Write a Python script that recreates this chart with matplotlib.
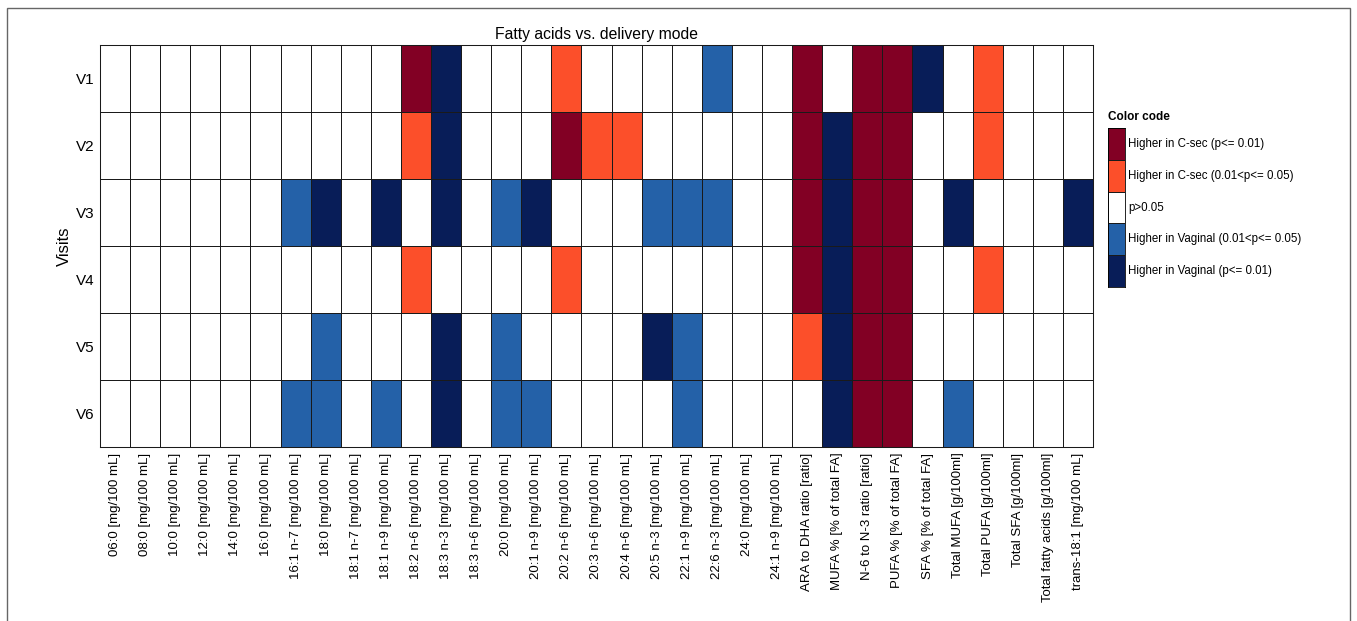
import matplotlib.pyplot as plt
import numpy as np
from matplotlib.colors import ListedColormap, BoundaryNorm
from matplotlib.patches import Rectangle

plt.rcParams['font.family'] = ['Liberation Sans', 'DejaVu Sans']

fatty_acids = [
    '06:0 [mg/100 mL]', '08:0 [mg/100 mL]', '10:0 [mg/100 mL]',
    '12:0 [mg/100 mL]', '14:0 [mg/100 mL]', '16:0 [mg/100 mL]',
    '16:1 n-7 [mg/100 mL]', '18:0 [mg/100 mL]', '18:1 n-7 [mg/100 mL]',
    '18:1 n-9 [mg/100 mL]', '18:2 n-6 [mg/100 mL]', '18:3 n-3 [mg/100 mL]',
    '18:3 n-6 [mg/100 mL]', '20:0 [mg/100 mL]', '20:1 n-9 [mg/100 mL]',
    '20:2 n-6 [mg/100 mL]', '20:3 n-6 [mg/100 mL]', '20:4 n-6 [mg/100 mL]',
    '20:5 n-3 [mg/100 mL]', '22:1 n-9 [mg/100 mL]', '22:6 n-3 [mg/100 mL]',
    '24:0 [mg/100 mL]', '24:1 n-9 [mg/100 mL]', 'ARA to DHA ratio [ratio]',
    'MUFA % [% of total FA]', 'N-6 to N-3 ratio [ratio]',
    'PUFA % [% of total FA]', 'SFA % [% of total FA]',
    'Total MUFA [g/100ml]', 'Total PUFA [g/100ml]', 'Total SFA [g/100ml]',
    'Total fatty acids [g/100ml]', 'trans-18:1 [mg/100 mL]',
]
visits = ['V1', 'V2', 'V3', 'V4', 'V5', 'V6']

# 2 = higher in C-sec (p<=0.01), 1 = C-sec (0.01<p<=0.05), 0 = n.s.,
# -1 = vaginal (0.01<p<=0.05), -2 = vaginal (p<=0.01)
v1 = [0, 0, 0, 0, 0, 0, 0, 0, 0, 0, 2, -2, 0, 0, 0, 1, 0, 0, 0, 0, -1,
      0, 0, 2, 0, 2, 2, -2, 0, 1, 0, 0, 0]
v2 = [0, 0, 0, 0, 0, 0, 0, 0, 0, 0, 1, -2, 0, 0, 0, 2, 1, 1, 0, 0, 0,
      0, 0, 2, -2, 2, 2, 0, 0, 1, 0, 0, 0]
v3 = [0, 0, 0, 0, 0, 0, -1, -2, 0, -2, 0, -2, 0, -1, -2, 0, 0, 0, -1, -1, -1,
      0, 0, 2, -2, 2, 2, 0, -2, 0, 0, 0, -2]
v4 = [0, 0, 0, 0, 0, 0, 0, 0, 0, 0, 1, 0, 0, 0, 0, 1, 0, 0, 0, 0, 0,
      0, 0, 2, -2, 2, 2, 0, 0, 1, 0, 0, 0]
v5 = [0, 0, 0, 0, 0, 0, 0, -1, 0, 0, 0, -2, 0, -1, 0, 0, 0, 0, -2, -1, 0,
      0, 0, 1, -2, 2, 2, 0, 0, 0, 0, 0, 0]
v6 = [0, 0, 0, 0, 0, 0, -1, -1, 0, -1, 0, -2, 0, -1, -1, 0, 0, 0, 0, -1, 0,
      0, 0, 0, -2, 2, 2, 0, -1, 0, 0, 0, 0]

legend_labels = ['Higher in C-sec (p<= 0.01)',
                 'Higher in C-sec (0.01<p<= 0.05)',
                 'p>0.05',
                 'Higher in Vaginal (0.01<p<= 0.05)',
                 'Higher in Vaginal (p<= 0.01)']
legend_codes = [2, 1, 0, -1, -2]

colors = ['#081d58', '#2461a8', '#ffffff', '#fc4f2a', '#820024']
cmap = ListedColormap(colors)
norm = BoundaryNorm([-2.5, -1.5, -0.5, 0.5, 1.5, 2.5], cmap.N)

W, H = 1357, 621
fig = plt.figure(figsize=(W / 100, H / 100), dpi=100)

# figure frame
fig.add_artist(Rectangle((7 / W, -0.01), 1 - 14 / W, 1.01 - 8 / H,
                         transform=fig.transFigure, fill=False,
                         edgecolor='#666666', linewidth=1.0))

ax = fig.add_axes([100 / W, 1 - 447 / H, 993 / W, 402 / H])
data = np.array([v1, v2, v3, v4, v5, v6])
ax.pcolormesh(data, cmap=cmap, norm=norm, edgecolors='#1a1a1a',
              linewidth=0.65)
ax.set_xlim(0, len(fatty_acids))
ax.set_ylim(len(visits), 0)
ax.set_xticks(np.arange(len(fatty_acids)) + 0.5)
ax.set_xticklabels(fatty_acids, rotation=90, fontsize=9.5)
ax.set_yticks(np.arange(len(visits)) + 0.5)
ax.set_yticklabels(visits, fontsize=11)
ax.tick_params(length=0)
ax.tick_params(axis='x', pad=4)
ax.tick_params(axis='y', pad=4)
for s in ax.spines.values():
    s.set_linewidth(0.75)
    s.set_color('#1a1a1a')
ax.set_ylabel('Visits', fontsize=12, labelpad=3)
ax.set_title('Fatty acids vs. delivery mode', fontsize=11.3, pad=4)

# legend as colour strip
lax = fig.add_axes([1108 / W, 1 - 287 / H, 17 / W, 159 / H])
strip = np.array(legend_codes).reshape(-1, 1)
lax.pcolormesh(strip, cmap=cmap, norm=norm, edgecolors='#1a1a1a',
               linewidth=0.4)
lax.set_ylim(len(legend_codes), 0)
lax.set_xticks([])
lax.set_yticks([])
for s in lax.spines.values():
    s.set_linewidth(0.6)
for i, lab in enumerate(legend_labels):
    lax.text(1.2, i + 0.5, lab, transform=lax.transData, va='center',
             ha='left', fontsize=8.3)
fig.text(1108 / W, 1 - 117 / H, 'Color code', fontsize=8.5,
         fontweight='bold', va='center', ha='left')

fig.savefig('out.png', dpi=100)
